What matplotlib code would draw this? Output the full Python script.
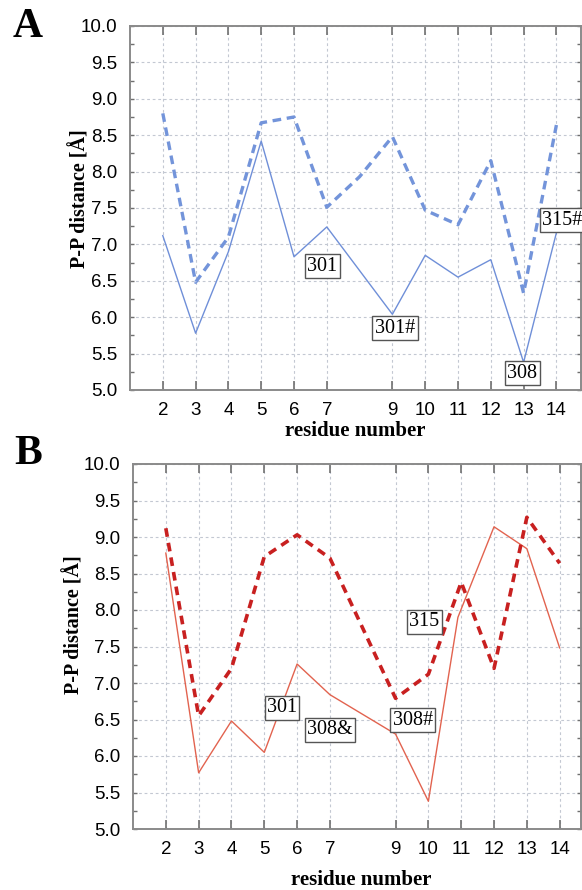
import matplotlib
matplotlib.use("Agg")
import matplotlib.pyplot as plt

# ---------------------------------------------------------------
# Data (P-P distance in Angstrom per residue)
# ---------------------------------------------------------------
tick_residues = [2, 3, 4, 5, 6, 7, 9, 10, 11, 12, 13, 14]

# Panel A (blue)
a_solid_x = [2, 3, 4, 5, 6, 7, 9, 10, 11, 12, 13, 14]
a_solid = [7.12, 5.78, 6.90, 8.42, 6.83, 7.24, 6.04, 6.85, 6.55, 6.79, 5.38, 7.16]
a_dash_x = [2, 3, 4, 5, 6, 7, 8, 9, 10, 11, 12, 13, 14]
a_dash = [8.80, 6.48, 7.10, 8.67, 8.75, 7.51, 7.93, 8.48, 7.47, 7.27, 8.15, 6.33, 8.64]
a_labels = ["301", "301#", "308", "315#"]
a_label_x = [6.86, 9.08, 12.96, 14.18]
a_label_y = [6.70, 5.85, 5.23, 7.33]

# Panel B (red)
b_solid_x = [2, 3, 4, 5, 6, 7, 9, 10, 10.9, 12, 13, 14]
b_solid = [8.78, 5.77, 6.48, 6.05, 7.26, 6.84, 6.30, 5.38, 7.90, 9.14, 8.84, 7.48]
b_dash_x = [2, 3, 4, 5, 6, 7, 9, 10, 11, 12, 13, 14]
b_dash = [9.12, 6.55, 7.20, 8.73, 9.03, 8.71, 6.79, 7.12, 8.38, 7.20, 9.27, 8.64]
b_labels = ["315", "301", "308&", "308#"]
b_label_x = [9.87, 5.54, 7.00, 9.53]
b_label_y = [7.84, 6.66, 6.36, 6.49]

SANS = "Liberation Sans"
SERIF = "Liberation Serif"

fig = plt.figure(figsize=(5.82, 8.90), dpi=100)
ax_a = fig.add_axes([130 / 582, 500 / 890, 451 / 582, 364 / 890])
ax_b = fig.add_axes([133 / 582, 61 / 890, 448 / 582, 365 / 890])


def style_axes(ax, xmax):
    ax.set_xlim(1, xmax)
    ax.set_ylim(5.0, 10.0)
    ax.set_xticks(tick_residues)
    ax.set_yticks([5.0 + 0.5 * i for i in range(11)])
    ax.set_yticks([5.25 + 0.5 * i for i in range(10)], minor=True)
    ax.set_yticklabels([f"{5.0 + 0.5 * i:.1f}" for i in range(11)])
    ax.grid(True, which="major", color="#c3c8d2", linestyle=(0, (2.5, 2.5)),
            linewidth=0.8)
    for sp in ax.spines.values():
        sp.set_color("#8a8a8a")
        sp.set_linewidth(1.4)
    ax.tick_params(axis="x", which="major", direction="in", length=6.5,
                   width=1.2, color="#707070", top=True, bottom=True, pad=9,
                   labelsize=13.5)
    ax.tick_params(axis="y", which="both", direction="in", length=3,
                   width=1.0, color="#707070", left=True, right=True, pad=9,
                   labelsize=13.5)
    for lab in ax.get_xticklabels() + ax.get_yticklabels():
        lab.set_family(SANS)
    ax.set_axisbelow(True)


def add_labels(ax, texts, xs, ys):
    for t, x, y in zip(texts, xs, ys):
        ax.text(x, y, t, family=SERIF, fontsize=14.5, ha="center", va="center",
                clip_on=False, zorder=5,
                bbox=dict(boxstyle="square,pad=0.12", fc="white",
                          ec="#555555", lw=1.0))


# --- Panel A ---
style_axes(ax_a, 14.75)
ax_a.plot(a_solid_x, a_solid, color="#6f8fd8", linewidth=1.0)
ax_a.plot(a_dash_x, a_dash, color="#7394da", linewidth=2.4,
          linestyle=(0, (2.6, 1.7)))
add_labels(ax_a, a_labels, a_label_x, a_label_y)
ax_a.set_xlabel("residue number", family=SERIF, fontweight="bold", fontsize=15)
ax_a.set_ylabel("P-P distance [Å]", family=SERIF, fontweight="bold", fontsize=14.5)
ax_a.xaxis.set_label_coords(0.5, -0.085)
ax_a.yaxis.set_label_coords(-0.087, 0.525)

# --- Panel B ---
style_axes(ax_b, 14.65)
ax_b.plot(b_solid_x, b_solid, color="#e2634f", linewidth=1.0)
ax_b.plot(b_dash_x, b_dash, color="#c82020", linewidth=2.6,
          linestyle=(0, (2.4, 1.7)))
add_labels(ax_b, b_labels, b_label_x, b_label_y)
ax_b.set_xlabel("residue number", family=SERIF, fontweight="bold", fontsize=15)
ax_b.set_ylabel("P-P distance [Å]", family=SERIF, fontweight="bold", fontsize=14.5)
ax_b.xaxis.set_label_coords(0.51, -0.112)
ax_b.yaxis.set_label_coords(-0.108, 0.56)

# panel letters
fig.text(28 / 582, 1 - 27 / 890, "A", family=SERIF, fontweight="bold",
         fontsize=30, ha="center", va="center")
fig.text(28 / 582, 1 - 454 / 890, "B", family=SERIF, fontweight="bold",
         fontsize=30, ha="center", va="center")

fig.savefig("out.png", dpi=100)
